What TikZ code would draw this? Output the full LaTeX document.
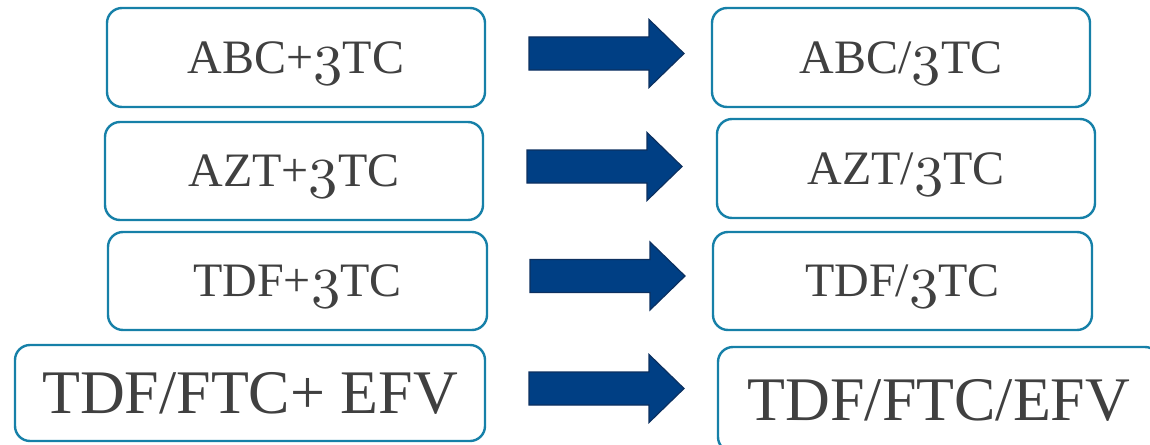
\documentclass[tikz,border=0pt]{standalone}
\usepackage{fontspec}
\usepackage{graphicx}
\setmainfont{Liberation Serif}
\DeclareFontFamily{OML}{oscmm}{\skewchar\font127 }
\DeclareFontShape{OML}{oscmm}{m}{it}{<->cmmi10}{}
\newcommand\osthree{\scalebox{1.22}{\usefont{OML}{oscmm}{m}{it}3}}
\definecolor{boxline}{RGB}{22,128,168}
\definecolor{txt}{RGB}{64,64,64}
\definecolor{arrfill}{RGB}{0,63,132}
\definecolor{arredge}{RGB}{12,48,96}
\tikzset{
  drugbox/.style={draw=boxline, line width=2.4pt, rounded corners=15pt, fill=white,
    inner sep=0pt, text=txt, font=\fontsize{48}{56}\selectfont,
    text height=31.8pt, text depth=0pt},
  bigtext/.style={font=\fontsize{62}{72}\selectfont, text height=41pt, text depth=0pt},
  blockarrow/.pic={
    \filldraw[fill=arrfill, draw=arredge, line width=1.2pt, line join=miter]
      (0,-16.5) -- (120,-16.5) -- (120,-34) -- (155,0) -- (120,34)
      -- (120,16.5) -- (0,16.5) -- cycle;
  }
}
\begin{document}
\begin{tikzpicture}[x=1pt,y=-1pt]
\useasboundingbox (0,0) rectangle (1150,444);
\clip (0,0) rectangle (1150,444);
% left column
\node[drugbox, minimum width=378pt, minimum height=99pt] (l1) at (296,57.5) {ABC+\osthree TC};
\node[drugbox, minimum width=378pt, minimum height=98pt] (l2) at (294,171) {AZT+\osthree TC};
\node[drugbox, minimum width=379pt, minimum height=98pt] (l3) at (297.5,281) {TDF+\osthree TC};
\node[drugbox, bigtext, minimum width=470pt, minimum height=96pt] (l4) at (250,393) {TDF/FTC+ EFV};
% right column
\node[drugbox, minimum width=378pt, minimum height=99pt] (r1) at (901,57.5) {ABC/\osthree TC};
\node[drugbox, minimum width=378pt, minimum height=99pt] (r2) at (906,168.5) {AZT/\osthree TC};
\node[drugbox, minimum width=379pt, minimum height=98pt] (r3) at (902.5,281) {TDF/\osthree TC};
\node[drugbox, bigtext, minimum width=442pt, minimum height=105pt] (r4) at (939,399.5) {TDF/FTC/EFV};
% arrows
\pic at (529,53.5) {blockarrow};
\pic at (527,166.5) {blockarrow};
\pic at (530,276) {blockarrow};
\pic at (529,388.5) {blockarrow};
\end{tikzpicture}
\end{document}
